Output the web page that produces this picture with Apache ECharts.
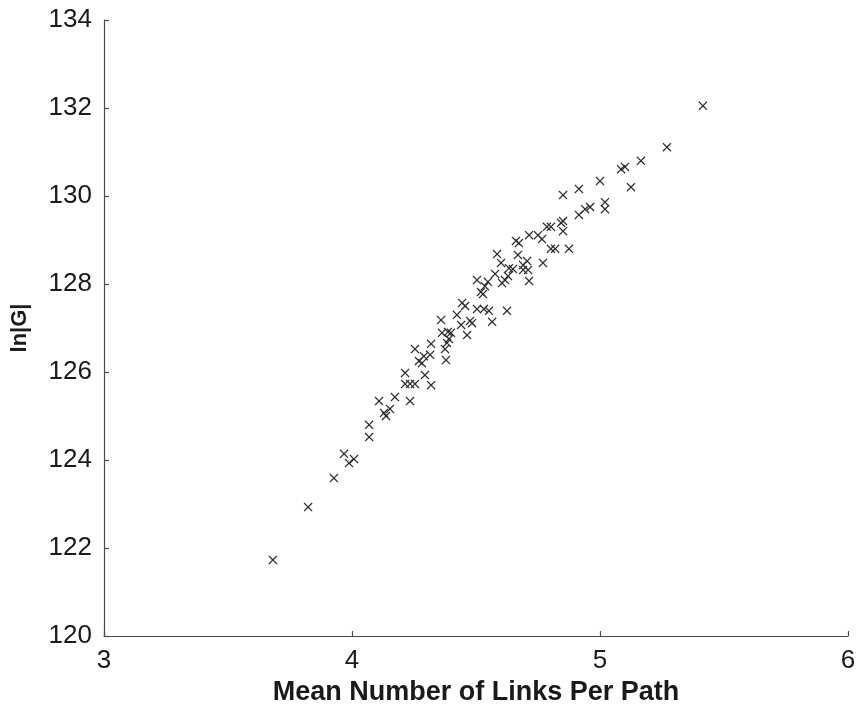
<!DOCTYPE html>
<html>
<head>
<meta charset="utf-8">
<script src="https://cdn.jsdelivr.net/npm/echarts@6/dist/echarts.min.js"></script>
<style>
  html, body { margin: 0; padding: 0; background: #fff; }
  #chart { width: 861px; height: 707px; }
</style>
</head>
<body>
<div id="chart"></div>
<script>
// Mean path length (links) against log-cardinality of G, one point per sample
const meanLinks = [
  3.681, 3.823, 3.927, 3.968, 3.988, 4.008, 4.069, 4.069, 4.109, 4.129,
  4.137, 4.153, 4.173, 4.234, 4.214, 4.214, 4.234, 4.254, 4.294, 4.319,
  4.254, 4.270, 4.282, 4.290, 4.319, 4.315, 4.379, 4.359, 4.363, 4.387,
  4.399, 4.383, 4.391, 4.375, 4.423, 4.440, 4.464, 4.444, 4.456, 4.476,
  4.484, 4.504, 4.532, 4.552, 4.565, 4.625, 4.528, 4.504, 4.520, 4.536,
  4.548, 4.577, 4.605, 4.585, 4.601, 4.633, 4.649, 4.617, 4.629, 4.661,
  4.673, 4.669, 4.690, 4.690, 4.710, 4.706, 4.714, 4.714, 4.750, 4.766,
  4.770, 4.786, 4.802, 4.802, 4.819, 4.875, 4.843, 4.851, 4.851, 4.851,
  4.915, 4.915, 4.940, 4.960, 5.000, 5.020, 5.020, 5.085, 5.101, 5.125,
  5.165, 5.270, 5.415
];
const lnG = [
  121.73, 122.93, 123.59, 124.14, 123.93, 124.02, 124.80, 124.52, 125.34, 125.07,
  125.00, 125.16, 125.43, 125.34, 125.98, 125.73, 125.73, 125.73, 125.93, 125.70,
  126.52, 126.25, 126.20, 126.36, 126.64, 126.39, 126.27, 127.18, 126.89, 126.91,
  126.89, 126.66, 126.75, 126.52, 127.30, 127.07, 126.84, 127.57, 127.50, 127.16,
  127.11, 127.43, 127.43, 127.39, 127.14, 127.39, 127.77, 128.09, 127.82, 127.95,
  128.05, 128.23, 128.02, 128.68, 128.48, 128.36, 128.34, 128.09, 128.18, 128.98,
  128.93, 128.66, 128.43, 128.32, 128.32, 128.52, 128.07, 129.11, 129.11, 129.02,
  128.48, 129.30, 129.30, 128.80, 128.80, 128.80, 129.39, 129.20, 129.43, 130.02,
  130.16, 129.57, 129.70, 129.75, 130.34, 129.86, 129.70, 130.61, 130.66, 130.20,
  130.80, 131.11, 132.05
];
const xTicks = [3, 4, 5, 6];
const yTicks = [120, 122, 124, 126, 128, 130, 132, 134];

const points = meanLinks.map((v, i) => [v, lnG[i]]);

// thin filled "x" glyph for the markers
const crossPath = 'path://M0,1L1,0L5,4L9,0L10,1L6,5L10,9L9,10L5,6L1,10L0,9L4,5Z';

const fontStack = 'Liberation Sans, Arial, sans-serif';
const axisText = { fontFamily: fontStack, fontSize: 26, color: '#1a1a1a' };
const axisLineStyle = { color: '#4a4a4a', width: 1.2 };

const chart = echarts.init(document.getElementById('chart'), null, { renderer: 'canvas' });
chart.setOption({
  backgroundColor: '#fff',
  animation: false,
  grid: {
    left: 104, right: 13, top: 20, bottom: 71,
    containLabel: false,
    outerBoundsMode: 'none'
  },
  xAxis: {
    type: 'value',
    min: xTicks[0],
    max: xTicks[xTicks.length - 1],
    interval: 1,
    name: 'Mean Number of Links Per Path',
    nameLocation: 'middle',
    nameGap: 42,
    nameTextStyle: { fontFamily: fontStack, fontSize: 27, fontWeight: 'bold', color: '#1a1a1a' },
    axisLine: { show: true, lineStyle: axisLineStyle },
    axisTick: { show: true, inside: true, length: 5, lineStyle: axisLineStyle },
    axisLabel: Object.assign({ margin: 12 }, axisText),
    splitLine: { show: false }
  },
  yAxis: {
    type: 'value',
    min: yTicks[0],
    max: yTicks[yTicks.length - 1],
    interval: 2,
    name: 'ln|G|',
    nameLocation: 'middle',
    nameGap: 73,
    nameRotate: 90,
    nameTextStyle: { fontFamily: fontStack, fontSize: 22, fontWeight: 'bold', color: '#1a1a1a' },
    axisLine: { show: true, lineStyle: axisLineStyle },
    axisTick: { show: true, inside: true, length: 5, lineStyle: axisLineStyle },
    axisLabel: Object.assign({ margin: 12 }, axisText),
    splitLine: { show: false }
  },
  series: [{
    type: 'scatter',
    data: points,
    symbol: crossPath,
    symbolSize: 9,
    itemStyle: { color: '#2e2e2e', opacity: 1 },
    emphasis: { disabled: true }
  }]
});
</script>
</body>
</html>
